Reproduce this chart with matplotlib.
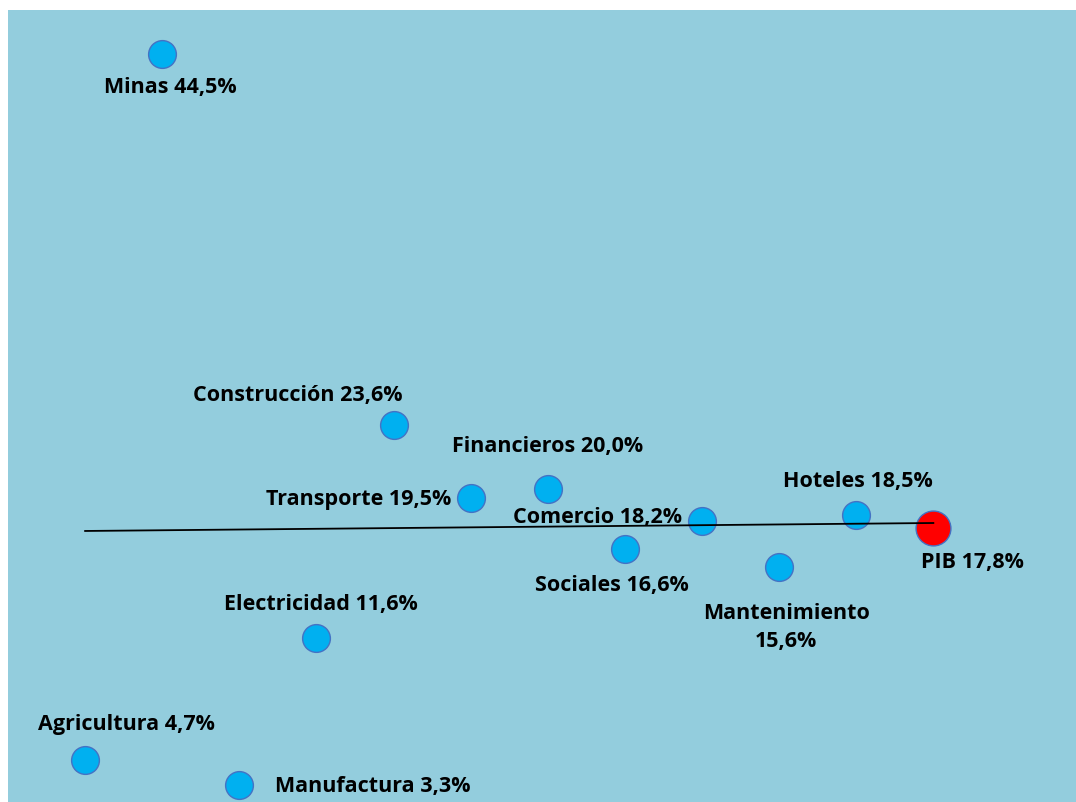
import numpy as np
import matplotlib
matplotlib.use("Agg")
import matplotlib.pyplot as plt

# sectors ordered as on the horizontal axis (rank 1..11), PIB last
sectors = ["Agricultura", "Minas", "Manufactura", "Electricidad", "Construcción",
           "Transporte", "Financieros", "Sociales", "Comercio", "Mantenimiento",
           "Hoteles"]
growth = [4.7, 44.5, 3.3, 11.6, 23.6, 19.5, 20.0, 16.6, 18.2, 15.6, 18.5]
pib_label = "PIB"
pib_growth = 17.8

# label placement (offset in pixels from the point, alignment)
label_pos = {
    "Agricultura": (41, 37, "center"),
    "Minas": (8, -32, "center"),
    "Manufactura": (36, -1, "left"),
    "Electricidad": (4, 34, "center"),
    "Construcción": (-96, 30, "center"),
    "Transporte": (-19, -1, "right"),
    "Financieros": (0, 43, "center"),
    "Sociales": (-13, -35, "center"),
    "Comercio": (-20, 4, "right"),
    "Mantenimiento": (7, -60, "center"),
    "Hoteles": (2, 35, "center"),
}


def fmt(v):
    return f"{v:.1f}".replace(".", ",") + "%"


plt.rcParams['font.family'] = ['Open Sans', 'DejaVu Sans']
fig = plt.figure(figsize=(10.76, 8.03), dpi=100)
ax = fig.add_axes([8 / 1076, 0, 1068 / 1076, 792 / 803])
ax.set_facecolor("#93CDDD")

x = np.arange(1, len(sectors) + 1)
ax.scatter(x, growth, s=400, color="#00B0F0", edgecolors="#4472C4",
           linewidths=1.0, zorder=3)
x_pib = len(sectors) + 1
ax.scatter([x_pib], [pib_growth], s=630, color="#FF0000", edgecolors="#4472C4",
           linewidths=1.0, zorder=3)

# linear trend of the sectors, drawn up to PIB
slope, inter = np.polyfit(x, growth, 1)
xl = np.array([1, x_pib])
ax.plot(xl, slope * xl + inter, color="black", lw=1.3, zorder=4)

for xi, name, val in zip(x, sectors, growth):
    dx, dy, ha = label_pos[name]
    text = f"{name} {fmt(val)}"
    if name == "Mantenimiento":
        text = f"{name}\n{fmt(val)}"
    ax.annotate(text, (xi, val), xytext=(dx, dy), textcoords="offset pixels",
                ha=ha, va="center", fontsize=15.5, fontweight="bold",
                linespacing=1.45, zorder=5)
ax.annotate(f"{pib_label} {fmt(pib_growth)}", (x_pib, pib_growth), xytext=(39, -34),
            textcoords="offset pixels", ha="center", va="center",
            fontsize=15.5, fontweight="bold", zorder=5)

ax.set_xlim(0, 13.85)
ax.set_ylim(2.34, 47.0)
ax.set_xticks([])
ax.set_yticks([])
for s in ax.spines.values():
    s.set_visible(False)

fig.savefig("out.png", dpi=100)
